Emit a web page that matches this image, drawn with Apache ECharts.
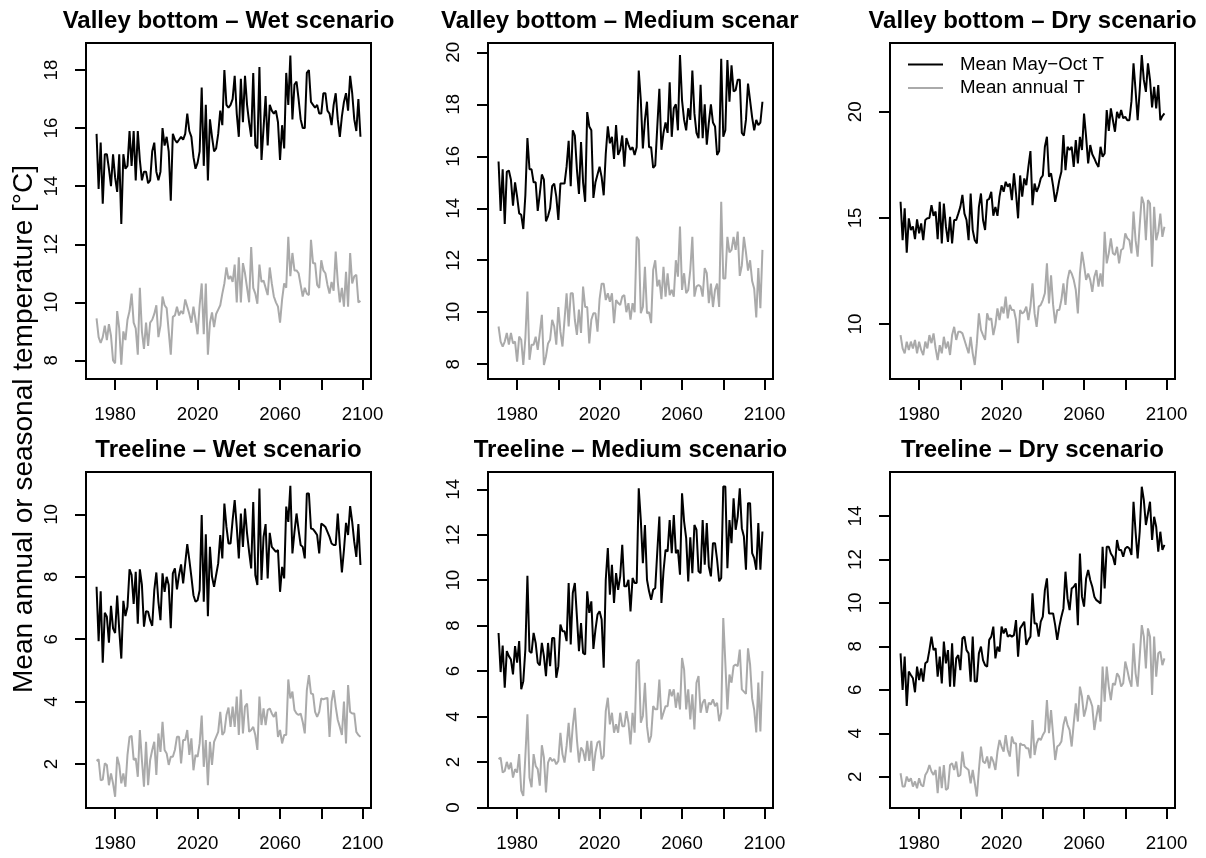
<!DOCTYPE html>
<html><head><meta charset="utf-8">
<script src="https://cdn.jsdelivr.net/npm/echarts@6/dist/echarts.min.js"></script>
<style>html,body{margin:0;padding:0;background:#fff}#c{width:1206px;height:858px}</style>
</head><body><div id="c"></div>
<script>
// ---------------- DATA ----------------
const startYear = 1971;   // series run 1971..2099
const seasonName = 'Mean May\u2212Oct T';
const annualName = 'Mean annual T';
const titles = ['Valley bottom \u2013 Wet scenario','Valley bottom \u2013 Medium scenario','Valley bottom \u2013 Dry scenario',
                'Treeline \u2013 Wet scenario','Treeline \u2013 Medium scenario','Treeline \u2013 Dry scenario'];
const yLabel = 'Mean annual or seasonal temperature [\u00B0C]';
const xTickValues = [1980,2000,2020,2040,2060,2080,2100];
const xTickLabels = [1980,2020,2060,2100];
const yTicksVbWet = [8,10,12,14,16,18];
const yTicksVbMed = [8,10,12,14,16,18,20];
const yTicksVbDry = [10,15,20];
const yTicksTlWet = [2,4,6,8,10];
const yTicksTlMed = [0,2,4,6,8,10,12,14];
const yTicksTlDry = [2,4,6,8,10,12,14];

const vbWetSeason = [
15.8,13.9,15.5,13.4,15.1,15.1,14.6,14.0,15.1,14.3,
13.8,15.1,12.7,15.1,14.6,14.7,15.9,14.7,15.9,14.2,
15.9,14.9,14.2,14.5,14.5,14.1,14.2,15.2,15.5,14.5,
14.2,14.5,16.0,15.4,15.7,15.2,13.5,15.8,15.6,15.5,
15.6,15.7,15.6,15.8,16.5,15.9,15.7,15.0,14.6,14.8,
15.2,17.4,14.7,16.8,14.2,16.3,15.7,15.2,15.3,15.8,
16.6,16.1,18.0,16.8,16.7,16.8,17.0,17.8,16.5,15.7,
17.7,16.2,17.8,16.8,16.2,15.7,17.9,15.4,15.3,18.1,
14.9,16.0,17.1,15.4,16.8,16.6,16.5,16.6,16.2,14.9,
16.1,15.3,17.9,16.8,18.5,16.3,17.5,17.6,17.0,16.3,
16.0,16.0,17.9,18.0,16.9,16.8,16.7,16.8,16.5,16.5,
17.2,17.2,16.6,16.5,16.1,16.8,17.2,16.3,15.7,16.4,
16.9,17.2,16.6,17.8,17.2,16.3,15.9,17.0,15.7];
const vbWetAnnual = [
9.45,8.8,8.6,8.8,9.2,8.7,9.25,8.85,8.0,7.9,
9.7,9.1,7.85,9.0,8.7,9.4,9.7,10.3,9.3,9.1,
8.2,10.5,9.0,8.4,9.3,8.5,9.3,9.4,9.6,9.9,
8.8,9.2,10.2,9.9,9.8,9.0,8.2,9.5,9.55,9.85,
9.55,9.7,9.6,10.1,9.85,9.6,9.3,9.85,9.4,8.9,
9.9,10.65,8.9,10.65,8.2,9.3,9.65,9.15,9.6,9.75,
9.9,10.3,10.65,11.2,10.8,10.9,10.7,11.3,10.0,11.55,
10.0,11.35,11.0,10.5,10.0,11.9,10.5,10.3,9.95,11.3,
10.7,10.75,10.5,10.25,11.2,10.65,10.2,10.0,9.85,9.3,
10.1,10.65,10.5,12.26,10.9,11.7,11.1,11.1,11.0,10.6,
10.2,10.5,10.3,10.25,12.15,11.35,11.35,10.6,10.5,11.45,
11.1,11.0,10.6,10.3,10.7,10.4,11.75,10.7,10.0,10.5,
9.85,11.05,9.85,11.7,10.65,10.9,10.95,10.0,10.05];
const vbMedSeason = [
15.8,13.9,15.5,13.4,15.4,15.45,15.1,14.1,15.0,14.45,
13.8,13.75,13.2,14.5,16.7,15.5,15.5,15.0,15.0,13.9,
14.55,15.3,15.1,13.5,13.7,14.0,14.85,14.95,14.45,13.55,
14.95,14.95,14.95,15.6,16.6,14.85,17.0,16.8,15.5,14.55,
16.55,15.0,14.25,17.7,17.15,17.0,14.4,15.0,15.3,15.6,
15.2,14.5,16.1,17.15,16.5,16.75,15.9,17.2,16.05,16.25,
16.8,15.6,16.7,16.45,16.25,16.35,16.05,16.35,19.3,18.15,
16.3,17.4,18.1,16.35,16.35,15.55,15.65,17.15,18.6,16.25,
16.9,17.3,16.9,18.85,16.75,17.85,18.0,17.0,19.9,18.15,
17.4,17.0,17.85,17.4,19.3,17.65,16.9,16.7,18.75,16.7,
18.0,16.45,17.3,18.0,17.3,17.15,16.05,16.2,19.75,16.75,
17.0,19.7,18.1,19.5,18.5,18.55,18.95,18.95,16.9,16.8,
17.4,18.8,18.15,17.5,17.0,17.4,17.2,17.3,18.1];
const vbMedAnnual = [
9.45,8.87,8.68,8.87,9.2,8.75,9.2,8.8,8.87,8.1,
9.06,8.94,7.97,9.0,10.8,8.17,8.75,8.75,9.06,8.55,
9.2,9.9,7.97,8.3,8.8,8.94,9.71,9.45,8.75,10.2,
9.25,8.68,9.71,10.73,9.45,10.73,10.73,9.71,9.13,10.1,
9.2,10.99,10.2,10.2,8.8,9.71,9.96,9.96,9.25,10.5,
11.1,11.1,10.47,10.73,10.4,10.73,9.58,10.47,10.35,10.28,
10.6,10.66,10.0,10.35,9.71,10.35,10.0,12.9,12.78,9.96,
10.2,11.75,9.96,10.0,9.58,11.63,12.0,10.99,11.25,10.5,
11.75,10.6,11.5,10.66,10.86,10.6,12.0,11.37,13.3,10.86,
11.5,10.73,10.86,11.63,12.9,10.6,10.99,11.05,10.99,10.6,
11.7,11.5,10.35,11.1,10.2,10.86,11.1,10.2,14.25,11.3,
11.3,12.9,12.3,12.4,12.9,12.4,13.1,11.4,11.8,12.9,
12.3,11.6,12.0,11.2,10.9,9.8,11.7,10.15,12.4];
const vbDrySeason = [
15.76,13.95,15.45,13.36,14.98,14.43,14.6,14.0,14.93,14.27,
14.74,13.95,14.9,14.98,15.0,15.6,15.1,15.3,14.0,15.76,
13.8,15.68,14.6,13.87,15.05,13.8,14.9,14.9,15.2,15.52,
16.08,15.2,14.9,13.95,16.15,14.43,13.95,13.8,15.52,16.15,
14.9,14.43,15.84,15.9,16.23,15.1,15.52,15.1,16.0,16.54,
16.23,16.7,16.47,16.62,15.84,17.1,16.15,14.98,17.0,16.0,
16.86,16.54,17.4,18.15,15.6,16.62,16.23,16.47,16.86,17.0,
18.35,18.82,16.94,17.1,16.5,15.76,16.23,16.78,17.17,18.9,
17.25,18.35,18.2,18.35,17.4,18.67,17.57,18.82,18.2,19.92,
18.82,17.57,18.43,18.0,17.8,17.57,17.4,18.35,17.88,18.04,
20.08,19.1,20.16,19.6,19.06,20.0,19.7,20.08,19.7,19.76,
19.6,19.6,20.5,22.28,21.0,19.6,21.0,22.67,21.5,20.94,
22.28,21.5,20.2,21.18,20.16,21.26,19.6,19.8,19.92];
const vbDryAnnual = [
9.48,8.85,8.62,9.17,8.78,9.17,8.85,9.25,8.62,9.17,
8.78,8.54,9.17,8.85,9.48,9.1,9.56,8.85,8.3,9.0,
8.62,9.4,8.85,9.17,8.54,9.48,9.87,9.25,9.64,9.64,
9.56,9.25,8.93,8.62,9.4,8.62,8.07,9.1,10.5,9.72,
9.48,9.25,10.5,10.19,10.27,9.48,9.95,10.74,10.19,10.82,
10.5,11.29,10.27,10.9,10.66,10.66,10.19,9.1,10.66,10.5,
10.58,10.82,10.19,10.82,11.92,10.5,9.87,10.82,10.9,11.13,
11.45,12.86,10.97,12.3,10.9,10.03,10.66,10.66,11.13,11.92,
10.9,12.08,12.54,12.38,12.08,11.6,10.5,12.38,13.4,12.78,
12.08,12.38,12.08,11.52,12.23,12.54,11.76,12.38,11.76,14.35,
12.86,13.33,14.04,13.33,13.25,13.64,12.86,13.49,13.56,14.27,
14.04,13.95,13.33,15.3,13.95,13.17,14.66,16.0,15.68,13.95,
15.84,15.68,12.7,15.52,13.95,14.35,15.2,14.11,14.58];
const tlWetSeason = [
7.68,5.94,7.54,5.25,6.85,6.72,5.89,7.07,6.35,6.2,
7.4,6.3,5.38,7.23,6.74,7.04,8.24,8.06,7.13,8.16,
6.5,8.24,7.74,6.4,6.9,6.88,6.61,6.43,7.57,8.14,
7.2,6.61,8.11,7.52,8.0,7.74,6.35,8.11,8.27,7.6,
8.06,8.4,7.79,8.43,9.05,8.54,8.0,7.41,7.2,7.25,
7.57,9.98,7.2,9.36,6.74,8.96,8.0,7.68,8.06,8.43,
9.34,8.59,10.35,9.6,9.07,9.07,9.82,10.46,9.6,8.59,
10.03,8.96,10.19,9.39,8.8,8.27,10.4,8.06,7.74,10.83,
7.9,9.28,9.69,7.95,9.41,8.96,8.88,8.8,8.86,7.52,
8.32,7.95,10.25,9.76,10.92,8.75,9.44,10.03,9.5,9.02,
8.96,8.59,10.67,10.67,9.55,9.53,9.44,9.34,8.75,9.71,
9.66,9.6,9.44,9.28,9.07,9.02,9.02,10.03,9.02,8.14,
8.86,9.73,9.34,10.27,9.76,9.12,8.64,9.69,8.38];
const tlWetAnnual = [
2.1,2.15,1.48,1.5,2.02,1.97,1.32,1.7,1.38,0.95,
2.23,1.97,1.38,1.7,1.27,2.29,2.87,2.9,2.13,2.18,
1.59,3.09,2.13,1.27,2.71,1.32,2.13,2.45,2.71,1.65,
2.98,2.39,3.35,2.45,2.34,1.97,2.23,2.23,2.45,2.87,
2.87,2.02,2.77,2.77,3.09,2.29,2.82,1.8,2.29,2.23,
2.66,3.55,1.91,2.77,1.32,2.71,1.97,2.71,2.87,3.03,
3.67,2.93,3.03,3.57,3.81,3.19,3.84,3.19,4.16,2.93,
4.39,2.98,3.84,3.94,3.03,3.09,3.19,2.93,2.45,4.16,
3.25,3.78,3.25,3.73,3.78,3.62,3.51,3.67,2.87,3.09,
2.66,2.93,2.93,4.71,4.1,4.32,3.73,3.62,3.57,3.62,
3.35,2.98,4.37,4.85,4.26,4.24,3.67,3.51,3.67,4.1,
4.07,4.1,4.12,2.87,4.0,4.37,3.84,3.41,3.19,2.93,
4.0,2.66,4.53,3.67,3.62,3.62,3.03,2.93,2.87];
const tlMedSeason = [
7.68,5.96,7.13,5.27,6.88,6.66,6.51,5.86,7.1,6.37,
7.32,5.2,5.56,6.95,10.2,6.88,6.8,7.68,7.24,6.37,
6.25,7.24,6.66,5.78,7.24,6.22,7.46,7.46,5.71,6.22,
8.05,7.76,7.76,7.32,9.88,7.17,9.44,9.88,8.41,6.88,
8.12,6.8,6.73,9.51,8.56,9.07,6.98,7.83,8.49,8.63,
8.27,6.15,10.02,11.41,9.36,10.68,9.0,10.31,9.58,10.17,
11.56,9.73,9.73,10.02,8.63,10.1,9.88,9.88,14.04,12.65,
10.75,12.43,10.02,9.51,9.14,9.58,9.66,11.27,12.8,9.0,
10.39,11.34,11.27,12.65,11.19,12.87,11.19,11.34,10.24,13.82,
12.58,11.85,9.95,11.89,10.31,12.43,12.22,10.39,10.31,12.65,
10.68,12.51,10.6,10.17,11.63,11.63,10.9,9.95,10.1,14.12,
14.12,10.53,12.65,11.63,13.6,12.22,12.8,14.04,12.29,11.92,
10.46,13.39,13.39,11.19,10.97,10.46,12.51,10.46,12.14];
const tlMedAnnual = [
2.13,2.2,1.54,1.61,2.01,1.69,1.98,1.32,1.69,1.54,
2.35,0.74,0.51,2.27,4.1,1.32,0.89,2.35,1.83,1.69,
0.96,2.74,2.2,0.66,1.98,2.2,2.05,2.13,1.9,2.05,
3.29,2.35,1.98,2.71,3.73,2.42,3.58,4.39,3.0,1.98,
2.64,2.49,2.05,2.93,2.05,2.93,1.61,2.42,2.86,2.93,
2.13,2.27,4.24,4.83,3.66,4.17,3.29,3.66,3.29,4.17,
3.58,3.58,4.24,3.73,2.78,4.17,3.29,6.37,6.51,3.73,
4.03,5.49,3.58,2.86,3.15,4.46,4.32,4.32,5.63,3.88,
4.17,4.46,4.46,5.2,4.9,5.2,4.39,5.05,4.32,6.58,
6.07,4.32,5.2,3.88,4.98,3.44,5.49,5.78,4.17,4.61,
4.76,4.17,4.61,4.54,4.76,4.46,4.61,3.8,4.17,8.34,
6.37,4.32,5.85,5.49,6.22,6.29,6.22,6.95,5.2,5.1,
5.0,7.0,6.3,4.8,4.3,3.3,5.5,3.35,6.0];
const tlDrySeason = [
7.68,5.99,7.53,5.26,6.84,6.68,6.53,5.89,7.07,6.45,
6.99,6.38,7.22,7.3,7.83,8.45,7.83,7.91,6.61,7.53,
6.3,8.22,7.22,7.83,6.15,8.14,6.15,7.45,7.6,6.91,
8.37,8.45,7.83,7.68,6.38,8.45,6.38,6.38,7.68,7.99,
7.37,7.14,7.07,8.3,8.45,8.91,7.45,7.99,7.76,8.91,
8.6,8.83,8.45,8.52,8.45,8.52,9.21,7.53,8.83,8.98,
9.14,8.07,8.3,8.45,10.44,9.06,9.06,8.45,9.14,9.37,
10.59,11.13,9.52,9.52,9.52,8.98,8.3,8.91,9.37,9.75,
11.44,10.21,9.67,10.67,10.75,10.9,8.98,12.28,10.29,9.83,
11.13,11.52,11.06,10.75,10.29,10.13,10.06,9.98,12.59,10.67,
12.59,12.59,12.28,12.13,11.75,12.9,12.44,12.44,12.13,12.51,
12.59,12.51,12.21,14.66,13.28,12.05,13.28,15.35,14.74,13.59,
14.12,14.66,12.9,13.97,13.51,12.36,13.28,12.44,12.67];
const tlDryAnnual = [
2.16,1.55,1.55,2.01,1.78,1.93,1.55,1.78,1.47,1.93,
1.62,1.55,2.08,2.24,2.54,2.24,2.08,2.31,1.24,2.47,
1.47,2.54,1.39,1.47,2.54,2.62,2.31,2.7,2.01,2.08,
3.16,2.47,2.39,2.31,1.7,2.31,1.7,1.09,2.31,3.39,
2.7,2.62,2.93,2.39,2.93,2.7,2.31,3.16,3.69,3.39,
3.16,3.92,3.23,2.93,3.85,3.54,3.54,2.01,3.54,3.46,
3.46,3.31,3.31,2.85,4.61,3.0,3.54,3.77,3.69,3.92,
4.08,5.53,4.0,5.07,3.92,2.77,3.39,3.46,3.62,4.38,
4.77,4.38,4.15,3.39,4.46,5.38,4.54,6.15,5.69,4.77,
5.15,5.76,5.53,5.23,4.15,4.77,5.3,4.54,7.07,5.46,
7.07,6.15,5.53,6.3,6.22,6.76,6.61,6.15,6.3,7.3,
6.91,6.45,6.15,8.14,6.76,6.15,7.53,8.98,8.45,6.99,
8.83,8.45,5.76,8.45,6.61,7.68,7.76,7.14,7.45];

// ---------------- LAYOUT / STYLE ----------------
const FONT = '"Liberation Sans", Arial, Helvetica, sans-serif';
const colLeft = [86, 488, 890], rowTop = [43, 472], boxW = 285, boxH = 336, figW = 402;
const xMin = 1965.88, xMax = 2104.12;
const panels = [
  {season: vbWetSeason, annual: vbWetAnnual, yMin: 7.36, yMax: 18.93, ticks: yTicksVbWet},
  {season: vbMedSeason, annual: vbMedAnnual, yMin: 7.43, yMax: 20.36, ticks: yTicksVbMed},
  {season: vbDrySeason, annual: vbDryAnnual, yMin: 7.41, yMax: 23.24, ticks: yTicksVbDry},
  {season: tlWetSeason, annual: tlWetAnnual, yMin: 0.59, yMax: 11.36, ticks: yTicksTlWet},
  {season: tlMedSeason, annual: tlMedAnnual, yMin: -0.02, yMax: 14.76, ticks: yTicksTlMed},
  {season: tlDrySeason, annual: tlDryAnnual, yMin: 0.56, yMax: 16.03, ticks: yTicksTlDry}
];
const toPairs = arr => arr.map((v, i) => [startYear + i, v]);

const measure = (() => {
  const ctx = document.createElement('canvas').getContext('2d');
  return (txt, font) => { ctx.font = font; return ctx.measureText(txt).width; };
})();
const titleSize = 24, tickSize = 18.7;
const plain = v => String(Math.round(v));

const grid = [], xAxis = [], yAxis = [], series = [], title = [];
panels.forEach((p, i) => {
  const c = i % 3, r = Math.floor(i / 3);
  const left = colLeft[c], top = rowTop[r];
  grid.push({left: left, top: top, width: boxW, height: boxH, show: true,
             borderColor: '#000', borderWidth: 2, backgroundColor: 'transparent', containLabel: false});
  xAxis.push({type: 'value', gridIndex: i, min: xMin, max: xMax,
    axisLine: {show: true, onZero: false, lineStyle: {color: '#000', width: 2}},
    splitLine: {show: false},
    axisTick: {show: true, inside: false, length: 11, lineStyle: {color: '#000', width: 2}, customValues: xTickValues},
    axisLabel: {show: true, customValues: xTickLabels, formatter: plain, margin: 26, color: '#000', fontSize: tickSize, fontFamily: FONT}});
  yAxis.push({type: 'value', gridIndex: i, min: p.yMin, max: p.yMax, position: 'left',
    axisLine: {show: true, onZero: false, lineStyle: {color: '#000', width: 2}},
    splitLine: {show: false},
    axisTick: {show: true, inside: false, length: 11, lineStyle: {color: '#000', width: 2}, customValues: p.ticks},
    axisLabel: {show: true, customValues: p.ticks, formatter: plain, rotate: 90, margin: 25, color: '#000', fontSize: tickSize, fontFamily: FONT}});
  series.push({name: seasonName, type: 'line', xAxisIndex: i, yAxisIndex: i, data: toPairs(p.season),
    showSymbol: false, symbol: 'none', lineStyle: {color: '#000', width: 2}, itemStyle: {color: '#000'}, z: 3});
  series.push({name: annualName, type: 'line', xAxisIndex: i, yAxisIndex: i, data: toPairs(p.annual),
    showSymbol: false, symbol: 'none', lineStyle: {color: '#AAAAAA', width: 2}, itemStyle: {color: '#AAAAAA'}, z: 2});
  // title centred over the box, clipped to the panel's figure region
  const font = 'bold ' + titleSize + 'px ' + FONT;
  const w = measure(titles[i], font);
  const cx = left + boxW / 2;
  const tl = cx - w / 2;
  const clipR = figW * (c + 1);
  title.push({text: titles[i], left: tl, top: (r === 0 ? 9 : 438), padding: 0,
    textStyle: {fontSize: titleSize, fontWeight: 'bold', color: '#000', fontFamily: FONT,
                width: Math.min(w + 4, clipR - tl), overflow: 'truncate', ellipsis: ''}});
});

const chart = echarts.init(document.getElementById('c'), null, {renderer: 'canvas', width: 1206, height: 858});
chart.setOption({
  animation: false,
  backgroundColor: '#fff',
  title: title,
  grid: grid, xAxis: xAxis, yAxis: yAxis, series: series,
  legend: {data: [seasonName, annualName], orient: 'vertical', left: 908, top: 54, padding: 0,
    itemWidth: 35, itemHeight: 2, icon: 'rect', itemGap: 2.4, selectedMode: false,
    textStyle: {fontSize: tickSize, color: '#000', fontFamily: FONT, lineHeight: 21, padding: [0, 0, 0, 12]}},
  graphic: [{type: 'text', x: 24, y: 429, rotation: Math.PI / 2,
    style: {text: yLabel, font: '28px ' + FONT, fill: '#000', align: 'center', verticalAlign: 'middle'}}]
});
</script></body></html>
